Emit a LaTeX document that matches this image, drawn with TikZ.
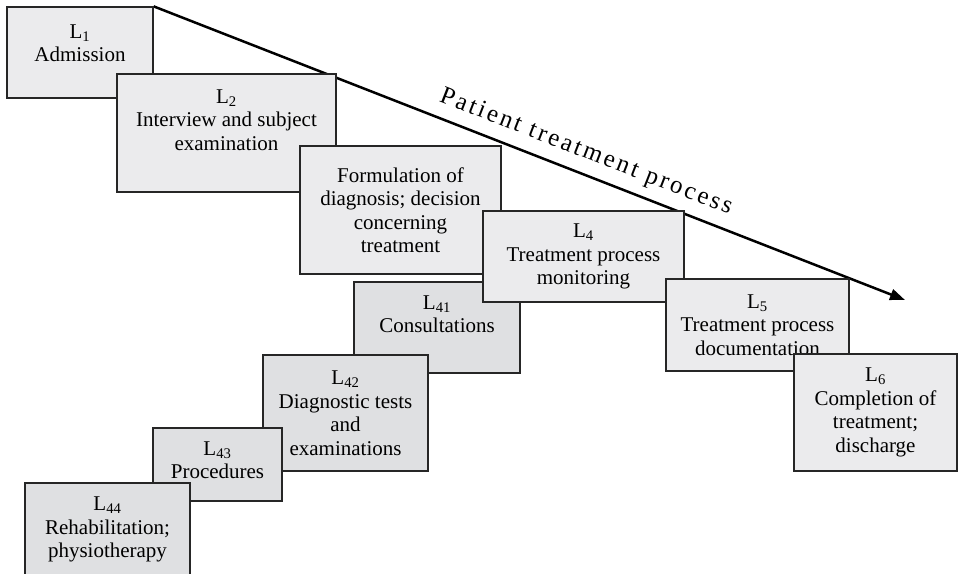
\documentclass[tikz,border=0pt]{standalone}
\usepackage{fontspec}
\setmainfont{Liberation Serif}
\usetikzlibrary{arrows.meta,backgrounds}
\definecolor{boxlight}{RGB}{235,235,237}
\definecolor{boxdark}{RGB}{223,224,226}

\begin{document}
\begin{tikzpicture}[x=1pt,y=-1pt,
  stage/.style={draw=black!85,line width=1.3pt,fill=boxlight,rectangle,align=center,inner sep=0pt,font=\fontsize{21}{23.5}\selectfont},
  substage/.style={stage,fill=boxdark}]
\useasboundingbox (0,0) rectangle (958,573);
\node[stage,minimum width=146,minimum height=91,text depth=19pt] (L1) at (80,52.5) {L\textsubscript{1}\\Admission};
\node[stage,minimum width=219,minimum height=118,text depth=26pt] (L2) at (226.5,133) {L\textsubscript{2}\\Interview and subject\\examination};
\node[stage,minimum width=201,minimum height=128] (L3) at (400.5,210) {Formulation of\\diagnosis; decision\\concerning\\treatment};
\node[substage,minimum width=166,minimum height=91,text depth=27pt] (L41) at (437,327.5) {L\textsubscript{41}\\Consultations};
\node[substage,minimum width=165,minimum height=116] (L42) at (345.5,413) {L\textsubscript{42}\\Diagnostic tests\\and\\examinations};
\node[substage,minimum width=129,minimum height=73,text depth=9pt] (L43) at (217.5,464.5) {L\textsubscript{43}\\Procedures};
\node[substage,minimum width=165,minimum height=93] (L44) at (107.5,529.5) {L\textsubscript{44}\\Rehabilitation;\\physiotherapy};
\node[stage,minimum width=201,minimum height=91] (L4) at (583.5,256.5) {L\textsubscript{4}\\Treatment process\\monitoring};
\node[stage,minimum width=183,minimum height=92] (L5) at (757.5,325) {L\textsubscript{5}\\Treatment process\\documentation};
\node[stage,minimum width=163,minimum height=117] (L6) at (875.5,412.5) {L\textsubscript{6}\\Completion of\\treatment;\\discharge};
\coordinate (tip) at (905,300);
\begin{scope}[on background layer]
\draw[line width=2.5pt,-{Triangle[length=15pt,width=11pt]}] (L1.north east) -- (tip)
  node[sloped,above=9pt,pos=0.565,inner sep=0pt,font=\fontsize{25}{27}\selectfont\addfontfeature{LetterSpace=11}] {Patient treatment process};
\end{scope}
\end{tikzpicture}
\end{document}
